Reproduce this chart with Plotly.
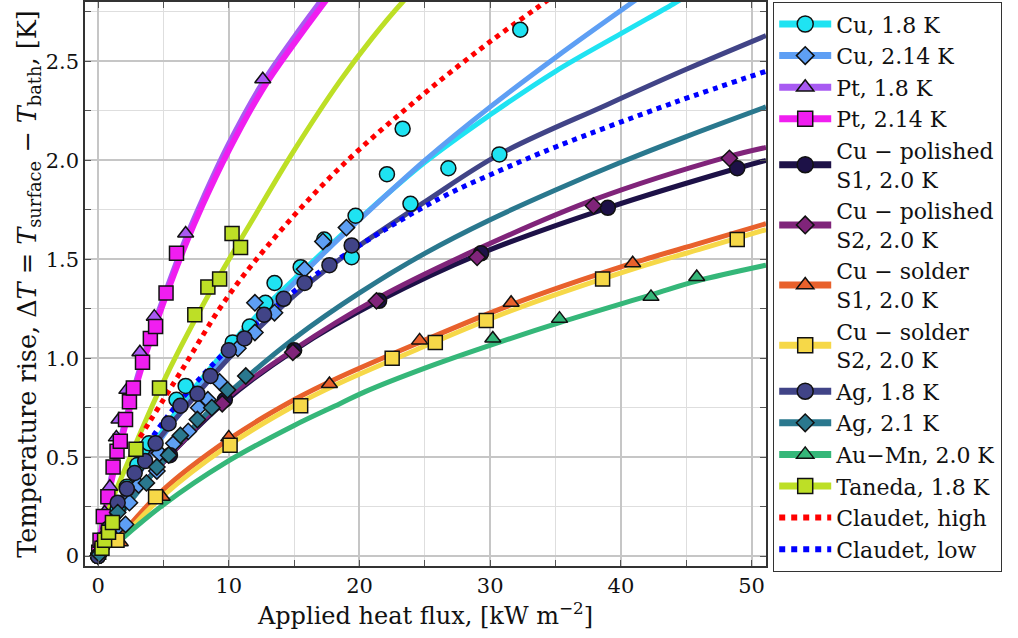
import plotly.graph_objects as go

# ---------------- measured points ----------------
cu18_x = [0.0, 0.4, 0.9, 1.5, 2.2, 3.0, 3.4, 3.9, 6.0, 6.7, 10.3, 11.6, 12.8, 13.5, 15.5, 17.3, 19.4, 19.7, 22.1, 23.3, 23.9, 26.8, 30.7, 32.3]
cu18_y = [0.0, 0.06, 0.14, 0.24, 0.35, 0.46, 0.54, 0.57, 0.79, 0.86, 1.08, 1.16, 1.28, 1.38, 1.46, 1.60, 1.51, 1.72, 1.93, 2.16, 1.78, 1.96, 2.03, 2.66]

cu214_x = [0.1, 0.7, 1.4, 2.1, 2.4, 3.1, 4.5, 4.7, 5.8, 6.9, 7.7, 8.4, 9.3, 10.7, 12.0, 12.0, 13.5, 15.8, 17.2, 19.0]
cu214_y = [0.01, 0.09, 0.14, 0.16, 0.27, 0.36, 0.43, 0.52, 0.57, 0.63, 0.75, 0.79, 0.88, 1.05, 1.13, 1.28, 1.23, 1.45, 1.59, 1.66]

pt18_x = [0.05, 0.5, 0.9, 1.4, 1.6, 2.2, 3.2, 4.3, 6.7, 12.6]
pt18_y = [0.02, 0.22, 0.35, 0.60, 0.69, 0.84, 1.03, 1.21, 1.63, 2.41]

pt214_x = [0.05, 0.15, 0.4, 0.75, 1.15, 1.45, 1.7, 2.1, 2.4, 2.7, 3.4, 4.0, 4.4, 5.2, 6.0]
pt214_y = [0.02, 0.08, 0.20, 0.30, 0.45, 0.53, 0.58, 0.69, 0.78, 0.85, 0.98, 1.10, 1.16, 1.33, 1.53]

pol1_x = [0.0, 5.5, 9.7, 15.0, 21.5, 29.3, 39.0, 48.9]
pol1_y = [0.0, 0.51, 0.79, 1.04, 1.29, 1.53, 1.76, 1.96]

pol2_x = [0.0, 9.5, 14.9, 21.3, 29.0, 37.9, 48.3]
pol2_y = [0.0, 0.77, 1.03, 1.29, 1.51, 1.77, 2.01]

sol1_x = [1.7, 4.9, 10.0, 17.7, 24.6, 31.6, 40.9]
sol1_y = [0.07, 0.30, 0.60, 0.87, 1.09, 1.28, 1.48]

sol2_x = [1.45, 4.4, 10.1, 15.5, 22.5, 25.8, 29.7, 38.6, 48.9]
sol2_y = [0.08, 0.30, 0.56, 0.76, 1.00, 1.08, 1.19, 1.40, 1.60]

ag18_x = [0.0, 0.3, 0.8, 1.5, 2.2, 2.8, 3.6, 4.4, 5.4, 6.3, 7.6, 8.6, 10.0, 11.2, 12.7, 14.2, 15.8, 17.7, 19.4]
ag18_y = [0.0, 0.05, 0.14, 0.27, 0.34, 0.42, 0.48, 0.57, 0.67, 0.76, 0.82, 0.91, 1.04, 1.10, 1.22, 1.30, 1.38, 1.47, 1.57]

ag21_x = [0.1, 0.8, 1.5, 3.7, 4.5, 5.4, 6.3, 7.6, 8.7, 9.9, 11.3]
ag21_y = [0.01, 0.12, 0.22, 0.37, 0.45, 0.51, 0.61, 0.69, 0.75, 0.84, 0.91]

aumn_x = [30.2, 35.3, 42.3, 45.8]
aumn_y = [1.10, 1.20, 1.31, 1.41]

tan_x = [0.3, 0.5, 0.8, 1.1, 2.9, 4.7, 7.4, 8.4, 9.3, 10.25, 10.9]
tan_y = [0.04, 0.08, 0.12, 0.17, 0.54, 0.85, 1.22, 1.36, 1.40, 1.63, 1.56]

# ---------------- fitted curves ----------------
cu18_fx = [0, 1, 2, 3, 4, 5, 7.5, 10, 12.5, 15, 17.5, 20, 25, 30, 35, 40, 44, 45]
cu18_fy = [0, 0.16, 0.30, 0.43, 0.54, 0.64, 0.86, 1.06, 1.24, 1.40, 1.555, 1.705, 1.99, 2.23, 2.45, 2.64, 2.79, 2.83]

cu214_fx = [0, 1, 2, 3, 4, 5, 7.5, 10, 12.5, 15, 17.5, 20, 25, 30, 35, 40.7, 42]
cu214_fy = [0, 0.15, 0.28, 0.40, 0.51, 0.61, 0.83, 1.03, 1.21, 1.38, 1.545, 1.70, 2.00, 2.27, 2.52, 2.79, 2.85]

pt18_fx = [0, 0.25, 0.5, 1, 1.5, 2, 3, 4, 5, 6.7, 8, 10, 12.6, 15, 17, 18.5]
pt18_fy = [0, 0.13, 0.22, 0.39, 0.53, 0.66, 0.90, 1.11, 1.30, 1.60, 1.80, 2.08, 2.39, 2.62, 2.80, 2.93]

pt214_fx = [0, 0.25, 0.5, 1, 1.5, 2, 3, 4, 5, 6.7, 8, 10, 12.6, 15, 17, 18.5]
pt214_fy = [0, 0.12, 0.21, 0.37, 0.51, 0.64, 0.88, 1.09, 1.28, 1.575, 1.775, 2.05, 2.36, 2.59, 2.77, 2.90]

pol1_fx = [0, 1, 2.5, 5.5, 9.7, 15, 21.5, 29.3, 39, 48.9, 51.1]
pol1_fy = [0, 0.14, 0.29, 0.51, 0.78, 1.04, 1.29, 1.53, 1.76, 1.96, 2.00]

pol2_fx = [0, 1, 2.5, 5.5, 9.5, 14.9, 21.3, 29, 37.9, 48.3, 51.1]
pol2_fy = [0, 0.14, 0.29, 0.51, 0.78, 1.04, 1.30, 1.55, 1.80, 2.02, 2.065]

sol1_fx = [1.7, 4.9, 10, 15, 18.5, 24.6, 31.6, 40.9, 46, 51.1]
sol1_fy = [0.10, 0.33, 0.59, 0.79, 0.905, 1.08, 1.27, 1.48, 1.58, 1.68]

sol2_fx = [1.7, 4.9, 10, 15, 18.5, 24.6, 31.6, 40.9, 46, 51.1]
sol2_fy = [0.08, 0.30, 0.56, 0.76, 0.875, 1.05, 1.24, 1.45, 1.55, 1.65]

ag18_fx = [0, 1, 2.2, 4.4, 7.6, 10, 14.2, 18.5, 25, 30.7, 38.9, 45, 51.1]
ag18_fy = [0, 0.19, 0.34, 0.57, 0.82, 1.00, 1.27, 1.50, 1.79, 2.03, 2.28, 2.46, 2.63]

ag21_fx = [0, 1, 3, 5, 8, 11.3, 15, 20, 25, 30, 35, 40, 45, 51.1]
ag21_fy = [0, 0.14, 0.32, 0.48, 0.70, 0.90, 1.10, 1.33, 1.53, 1.70, 1.85, 1.99, 2.12, 2.27]

aumn_fx = [1.7, 5, 9.7, 15, 18.5, 20.4, 25, 30.2, 35.3, 42.3, 45.8, 51.1]
aumn_fy = [0.08, 0.26, 0.47, 0.66, 0.77, 0.83, 0.95, 1.07, 1.18, 1.32, 1.39, 1.47]

tan_fx = [0, 0.5, 1, 2.45, 4.7, 8.2, 12, 15, 18.5, 21, 23.3, 24.5]
tan_fy = [0, 0.16, 0.27, 0.50, 0.84, 1.29, 1.72, 2.05, 2.40, 2.62, 2.80, 2.88]

claudet_hi_x = [3.2, 6.5, 9.7, 13.0, 18.3, 25, 30, 34.2, 35]
claudet_hi_y = [0.60, 0.95, 1.29, 1.57, 1.95, 2.34, 2.60, 2.80, 2.84]

claudet_lo_x = [3.0, 5.0, 8.8, 12.2, 16.2, 20.0, 26.2, 30.8, 35.1, 44.0, 51.1]
claudet_lo_y = [0.48, 0.68, 0.97, 1.18, 1.40, 1.57, 1.81, 1.95, 2.07, 2.29, 2.45]

FONT = "DejaVu Serif"

# name, colour, marker symbol, marker size, line width, points, curve
series = [
    ("Cu, 1.8 K", "#1fe3f2", "circle", 15, 5, (cu18_x, cu18_y), (cu18_fx, cu18_fy)),
    ("Cu, 2.14 K", "#5e9ff4", "diamond", 12.5, 5, (cu214_x, cu214_y), (cu214_fx, cu214_fy)),
    ("Pt, 1.8 K", "#a85af2", "triangle-up", 14, 6, (pt18_x, pt18_y), (pt18_fx, pt18_fy)),
    ("Pt, 2.14 K", "#f01ef0", "square", 14, 6, (pt214_x, pt214_y), (pt214_fx, pt214_fy)),
    ("Cu − polished<br>S1, 2.0 K", "#1d1147", "circle", 15, 5, (pol1_x, pol1_y), (pol1_fx, pol1_fy)),
    ("Cu − polished<br>S2, 2.0 K", "#80247a", "diamond", 12.5, 5, (pol2_x, pol2_y), (pol2_fx, pol2_fy)),
    ("Cu − solder<br>S1, 2.0 K", "#e8612c", "triangle-up", 14, 5, (sol1_x, sol1_y), (sol1_fx, sol1_fy)),
    ("Cu − solder<br>S2, 2.0 K", "#f6d848", "square", 14, 5, (sol2_x, sol2_y), (sol2_fx, sol2_fy)),
    ("Ag, 1.8 K", "#414487", "circle", 15, 5, (ag18_x, ag18_y), (ag18_fx, ag18_fy)),
    ("Ag, 2.1 K", "#2a788e", "diamond", 12.5, 5, (ag21_x, ag21_y), (ag21_fx, ag21_fy)),
    ("Au−Mn, 2.0 K", "#35b779", "triangle-up", 14, 5, (aumn_x, aumn_y), (aumn_fx, aumn_fy)),
    ("Taneda, 1.8 K", "#bddf26", "square", 14, 5, (tan_x, tan_y), (tan_fx, tan_fy)),
]
claudet = [
    ("Claudet, high", "#ff0000", (claudet_hi_x, claudet_hi_y)),
    ("Claudet, low", "#0000ff", (claudet_lo_x, claudet_lo_y)),
]

fig = go.Figure()

# fitted curves underneath every marker
for name, col, sym, ms, lw, pts, fit in series:
    fig.add_trace(go.Scatter(x=fit[0], y=fit[1], mode="lines", showlegend=False,
                             line=dict(color=col, width=lw, shape="spline", smoothing=1.0),
                             hoverinfo="skip"))
for name, col, cur in claudet:
    fig.add_trace(go.Scatter(x=cur[0], y=cur[1], mode="lines", showlegend=False,
                             line=dict(color=col, width=5, dash="dot", shape="spline", smoothing=1.0),
                             hoverinfo="skip"))

# measured points
for name, col, sym, ms, lw, pts, fit in series:
    fig.add_trace(go.Scatter(x=pts[0], y=pts[1], mode="markers", showlegend=False, name=name,
                             marker=dict(symbol=sym, size=ms, color=col,
                                         line=dict(color="#111111", width=1.5))))

# legend entries (line + marker)
for name, col, sym, ms, lw, pts, fit in series:
    fig.add_trace(go.Scatter(x=[None], y=[None], mode="lines+markers", name=name,
                             line=dict(color=col, width=7),
                             marker=dict(symbol=sym, size=ms + 1, color=col,
                                         line=dict(color="#111111", width=1.5))))
for name, col, cur in claudet:
    fig.add_trace(go.Scatter(x=[None], y=[None], mode="lines", name=name,
                             line=dict(color=col, width=6, dash="dot")))

axis_common = dict(
    showline=True, linecolor="#333333", linewidth=1.5, mirror="ticks",
    ticks="inside", ticklen=6, tickwidth=1.2, tickcolor="#555555",
    showgrid=True, gridcolor="#c6c6c6", gridwidth=1.6, zeroline=False,
    tickfont=dict(family=FONT, size=21, color="#111111"),
)

fig.update_xaxes(
    range=[-1.0, 51.1], tickvals=[0, 10, 20, 30, 40, 50],
    minor=dict(tickvals=[5, 15, 25, 35, 45], ticks="inside", ticklen=6, tickcolor="#555555",
               showgrid=True, gridcolor="#dedede", gridwidth=1.4),
    title=dict(text="Applied heat flux, [kW m<sup>−2</sup>]", font=dict(family=FONT, size=24, color="#111111"),
               standoff=8),
    **axis_common,
)
fig.update_yaxes(
    range=[-0.05, 2.8], tickvals=[0, 0.5, 1.0, 1.5, 2.0, 2.5],
    ticktext=["0", "0.5", "1.0", "1.5", "2.0", "2.5"],
    minor=dict(tickvals=[0.25, 0.75, 1.25, 1.75, 2.25, 2.75], ticks="inside", ticklen=6, tickcolor="#555555",
               showgrid=True, gridcolor="#dedede", gridwidth=1.4),
    title=dict(text="Temperature rise, Δ<i>T</i> = <i>T</i><sub>surface</sub> − <i>T</i><sub>bath</sub>, [K]",
               font=dict(family=FONT, size=25.5, color="#111111"), standoff=2),
    **axis_common,
)

fig.update_layout(
    width=1018, height=638,
    margin=dict(l=85, r=252, t=0, b=72),
    paper_bgcolor="white", plot_bgcolor="white",
    font=dict(family=FONT, color="#111111"),
    legend=dict(x=1.0103, y=1.0, xanchor="left", yanchor="top",
                bgcolor="white", bordercolor="#333333", borderwidth=1.2,
                font=dict(family=FONT, size=22, color="#111111"),
                itemwidth=52, tracegroupgap=0, maxheight=630),
    showlegend=True,
)

fig.write_html("out.html")
